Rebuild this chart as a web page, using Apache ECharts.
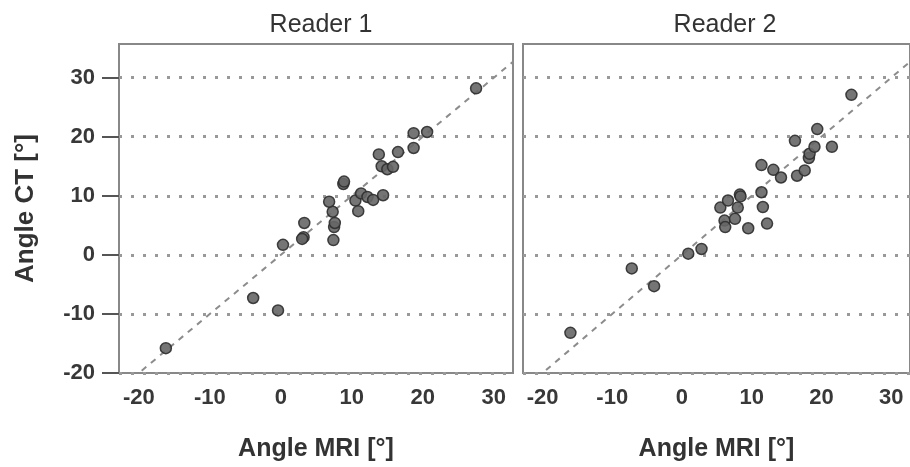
<!DOCTYPE html>
<html>
<head>
<meta charset="utf-8">
<title>Angle CT vs Angle MRI</title>
<script src="https://cdn.jsdelivr.net/npm/echarts@6/dist/echarts.min.js"></script>
<style>
  html, body { margin: 0; padding: 0; background: #fff; }
  #chart { width: 910px; height: 467px; }
</style>
</head>
<body>
<div id="chart"></div>
<script>
// panel titles
var panelTitles = ['Reader 1', 'Reader 2'];

// Reader 1: [Angle MRI, Angle CT]
var reader1 = [
  [-16.2, -15.8], [-3.9, -7.3], [-0.4, -9.4], [0.3, 1.7], [3.2, 3.0],
  [3.0, 2.7], [3.3, 5.4], [7.4, 2.5], [7.5, 4.7], [7.6, 5.4],
  [7.3, 7.3], [6.8, 9.0], [8.8, 12.0], [8.9, 12.4], [10.5, 9.2],
  [10.9, 7.4], [11.3, 10.4], [12.2, 9.8], [13.0, 9.3], [14.4, 10.1],
  [13.8, 17.0], [14.2, 15.0], [15.0, 14.5], [15.8, 14.9], [16.5, 17.4],
  [18.7, 18.1], [18.7, 20.6], [20.6, 20.8], [27.5, 28.2]
];

// Reader 2: [Angle MRI, Angle CT]
var reader2 = [
  [-16.0, -13.2], [-7.2, -2.3], [-4.0, -5.3], [0.9, 0.2], [2.8, 1.0],
  [5.5, 8.0], [6.6, 9.2], [6.1, 5.8], [6.2, 4.7], [7.6, 6.1],
  [8.0, 8.0], [8.3, 10.2], [8.4, 9.9], [9.5, 4.5], [11.4, 10.6],
  [11.6, 8.1], [12.2, 5.3], [11.4, 15.2], [13.1, 14.4], [14.2, 13.1],
  [16.2, 19.3], [16.5, 13.4], [17.6, 14.3], [18.2, 16.4], [18.3, 17.1],
  [19.0, 18.3], [19.4, 21.3], [21.5, 18.3], [24.3, 27.1]
];

// axis ticks
var xTicks = [-20, -10, 0, 10, 20, 30];
var yTicks = [-20, -10, 0, 10, 20, 30];
var xRange = [-22.8, 32.7];
var yRange = [-20, 35.7];

// identity line ends (y = x)
var identityEnds = [-30, 40];

var font = 'Liberation Sans, Arial, sans-serif';
var chart = echarts.init(document.getElementById('chart'));

function makeX(idx) {
  return {
    gridIndex: idx,
    type: 'value',
    min: xRange[0],
    max: xRange[1],
    name: 'Angle MRI [°]',
    nameLocation: 'middle',
    nameGap: 64,
    nameTextStyle: { fontFamily: font, fontSize: 25, fontWeight: 'bold', color: '#333' },
    axisLine: { show: false, onZero: false },
    axisTick: { show: false, customValues: xTicks },
    axisLabel: {
      customValues: xTicks,
      fontFamily: font, fontSize: 22, fontWeight: 'bold', color: '#383838', margin: 14
    },
    splitLine: { show: false }
  };
}

function makeY(idx) {
  var first = idx === 0;
  return {
    gridIndex: idx,
    type: 'value',
    min: yRange[0],
    max: yRange[1],
    name: first ? 'Angle CT [°]' : '',
    nameLocation: 'middle',
    nameGap: 80,
    nameTextStyle: { fontFamily: font, fontSize: 26, fontWeight: 'bold', color: '#333' },
    axisLine: { show: false, onZero: false },
    axisTick: {
      show: first, customValues: yTicks, length: 17,
      lineStyle: { color: '#555', width: 2 }
    },
    axisLabel: {
      show: first, customValues: yTicks,
      fontFamily: font, fontSize: 22, fontWeight: 'bold', color: '#383838', margin: 24
    },
    splitLine: {
      show: true,
      lineStyle: { color: '#999', width: 3, type: [3, 9] }
    }
  };
}

function scatter(idx, data) {
  return {
    type: 'scatter',
    xAxisIndex: idx,
    yAxisIndex: idx,
    data: data,
    symbolSize: 11,
    z: 3,
    itemStyle: { color: '#666', borderColor: '#2e2e2e', borderWidth: 1.5, opacity: 0.9 }
  };
}

function identity(idx) {
  return {
    type: 'line',
    xAxisIndex: idx,
    yAxisIndex: idx,
    data: identityEnds.map(function (v) { return [v, v]; }),
    symbol: 'none',
    silent: true,
    z: 2,
    lineStyle: { color: '#8c8c8c', width: 2, type: [6, 6] }
  };
}

var option = {
  backgroundColor: '#fff',
  animation: false,
  title: [
    { text: panelTitles[0], left: 316, top: 8, textAlign: 'center',
      textStyle: { fontFamily: font, fontSize: 25, fontWeight: 'normal', color: '#333' } },
    { text: panelTitles[1], left: 720, top: 8, textAlign: 'center',
      textStyle: { fontFamily: font, fontSize: 25, fontWeight: 'normal', color: '#333' } }
  ],
  grid: [
    { left: 119, top: 44, width: 394, height: 332, show: true,
      borderColor: '#888', borderWidth: 2, backgroundColor: 'transparent' },
    { left: 523, top: 44, width: 394, height: 332, show: true,
      borderColor: '#888', borderWidth: 2, backgroundColor: 'transparent' }
  ],
  xAxis: [makeX(0), makeX(1)],
  yAxis: [makeY(0), makeY(1)],
  series: [identity(0), scatter(0, reader1), identity(1), scatter(1, reader2)]
};

chart.setOption(option);
</script>
</body>
</html>
